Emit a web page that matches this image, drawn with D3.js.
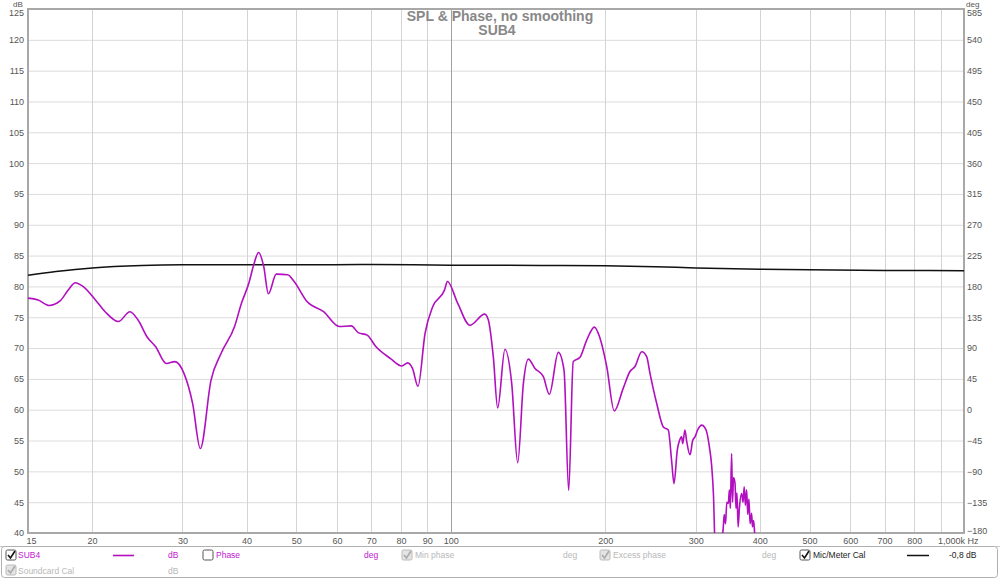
<!DOCTYPE html>
<html><head><meta charset="utf-8">
<script src="https://cdn.jsdelivr.net/npm/d3@7"></script>
<style>
html,body{margin:0;padding:0;background:#fff;}
svg{display:block;font-family:"Liberation Sans",Arial,sans-serif;}
</style></head>
<body><svg id="c" width="1000" height="581"></svg>
<script>
// ---- data ----
const splFreq = [15,15.7,16.5,17.3,18.0,18.54,19.2,20.3,21.2,22.5,23.7,24.6,25.6,26.6,27.9,29.0,30.2,31.4,32.5,34.1,35.7,37.9,39.1,40.4,41.3,42.2,43.2,44.1,45.7,48.1,49.5,52.5,56.5,60.6,64.0,66.0,68.7,71.5,76.3,80.3,82.4,84.2,86.3,89.1,92.2,97.2,98.5,103.1,108.9,116.4,118.3,121.0,123.4,127.5,131.4,135.0,138.5,141.6,145.9,151.4,155.6,162.0,166.2,169.7,173.2,178.5,184.0,190.5,195.3,201.3,208.2,216.8,223.4,228.5,235.5,240.8,244.4,251.9,259.5,265.3,269.4,272.2,276.3,279,281.7,283,285.9,288,292.5,296,299.1,303,308.2,312,315.2,319,322.4,325,327.2,332,337,339.6,341,343,345,347.3,349,350.5,352.5,354,355.5,357.9,359.5,361,363,365,368.7,371,373,375,377.1,379,381,383,385.6,387,389,390.5,392,396];
const splDb = [78.1,77.8,76.9,77.6,79.5,80.6,80.0,77.8,75.9,74.3,75.9,74.5,71.8,70.2,67.5,67.8,65.9,61.0,53.7,64.8,69.2,73.5,77.3,80.5,83.5,85.5,83.2,78.8,82.0,81.9,80.8,77.5,75.9,73.5,73.6,72.5,72.1,70.2,68.3,67.1,67.6,66.7,63.8,72.4,76.7,79.4,80.8,77.3,73.7,75.5,74.6,68.6,60.3,69.8,64.3,51.4,64.3,68.2,66.7,65.4,62.5,69.3,66.4,46.9,67.8,68.5,71.3,73.4,71.6,67.0,59.8,63.5,66.2,67.0,69.4,68.6,65.9,61.0,57.2,56.7,51.6,48.0,53.5,55.0,55.6,54.5,56.7,55.0,52.7,55.0,55.6,56.8,57.5,57.2,56.4,54.0,50.8,46.0,38.0,34.0,38.0,41.0,43.0,41.5,45.0,44.8,47.0,44.0,52.9,45.0,49.0,48.1,44.0,46.5,41.0,44.0,46.4,45.0,47.5,44.5,47.0,43.0,45.5,41.5,43.2,41.0,42.0,40.5,38.0,34.0];
const calFreq = [15,17,20,25,30,50,70,100,150,200,250,300,400,500,700,1000];
const calDb   = [81.8,82.4,83.0,83.4,83.5,83.5,83.55,83.45,83.4,83.35,83.2,83.0,82.8,82.7,82.6,82.55];
const xTicks = [15,20,30,40,50,60,70,80,90,100,200,300,400,500,600,700,800,1000];
const xTickLabels = ["15","20","30","40","50","60","70","80","90","100","200","300","400","500","600","700","800","1,000k Hz"];
const xGrid = [20,30,40,50,60,70,80,90,100,200,300,400,500,600,700,800,900];
const dbTicks = [40,45,50,55,60,65,70,75,80,85,90,95,100,105,110,115,120,125];
const degTicks = [-180,-135,-90,-45,0,45,90,135,180,225,270,315,360,405,450,495,540,585];

// ---- layout ----
const L=28,R=964,T=9,B=533;
const svg=d3.select("#c");
const x=d3.scaleLog().domain([15,1000]).range([L,R]);
const y=d3.scaleLinear().domain([40,125]).range([B,T]);
const yDeg=d3.scaleLinear().domain([-180,585]).range([B,T]);

// grid
const g=svg.append("g");
g.selectAll(".hg").data(dbTicks).join("line")
 .attr("x1",L).attr("x2",R).attr("y1",d=>y(d)+0.5).attr("y2",d=>y(d)+0.5)
 .attr("stroke","#dcdcdc").attr("stroke-width",1);
g.selectAll(".vg").data(xGrid).join("line")
 .attr("y1",T).attr("y2",B).attr("x1",d=>Math.round(x(d))+0.5).attr("x2",d=>Math.round(x(d))+0.5)
 .attr("stroke",d=>d===100?"#a0a0a0":"#d4d4d4").attr("stroke-width",1);

// axes
const fs="9px";
const ax=svg.append("g").attr("transform",`translate(0,${B})`)
 .call(d3.axisBottom(x).tickValues(xTicks).tickFormat((d,i)=>xTickLabels[i]).tickSize(0).tickPadding(5));
ax.select(".domain").remove();
ax.selectAll("text").attr("fill","#555").style("font-size",fs).attr("font-family","Liberation Sans, Arial");
ax.selectAll(".tick").filter(d=>d===1000).select("text").attr("text-anchor","end").attr("dx","14");
ax.selectAll(".tick").filter(d=>d===15).select("text").attr("dx","3");

const ayl=svg.append("g").attr("transform",`translate(${L},0)`)
 .call(d3.axisLeft(y).tickValues(dbTicks).tickSize(0).tickPadding(4));
ayl.select(".domain").remove();
ayl.selectAll("text").attr("fill","#555").style("font-size",fs).attr("font-family","Liberation Sans, Arial");
ayl.selectAll(".tick").filter(d=>d===125).select("text").attr("dy","0.72em");

const ayr=svg.append("g").attr("transform",`translate(${R},0)`)
 .call(d3.axisRight(yDeg).tickValues(degTicks).tickSize(0).tickPadding(3));
ayr.select(".domain").remove();
ayr.selectAll("text").attr("fill","#555").style("font-size",fs).attr("font-family","Liberation Sans, Arial");
ayr.selectAll(".tick").filter(d=>d===585).select("text").attr("dy","0.72em");
ayr.selectAll(".tick").filter(d=>d===-180).select("text").attr("dy","0.1em");

svg.append("text").attr("x",13).attr("y",7).attr("fill","#555").style("font-size","8px").text("dB");
svg.append("text").attr("x",966).attr("y",7).attr("fill","#555").style("font-size","8px").text("deg");

// frame
svg.append("rect").attr("x",L).attr("y",T).attr("width",R-L).attr("height",B-T)
 .attr("fill","none").attr("stroke","#a8a8a8").attr("stroke-width",2);

// title
svg.append("text").attr("x",500).attr("y",21).attr("text-anchor","middle").attr("fill","#888")
 .style("font-size","14px").style("font-weight","bold").text("SPL & Phase, no smoothing");
svg.append("text").attr("x",497).attr("y",35).attr("text-anchor","middle").attr("fill","#888")
 .style("font-size","14px").style("font-weight","bold").text("SUB4");

// clip
svg.append("clipPath").attr("id","clip").append("rect").attr("x",L).attr("y",T).attr("width",R-L).attr("height",B-T);

// cal line
const calData=calFreq.map((f,i)=>[f,calDb[i]]);
svg.append("path").datum(calData).attr("clip-path","url(#clip)")
 .attr("d",d3.line().x(d=>x(d[0])).y(d=>y(d[1])).curve(d3.curveMonotoneX))
 .attr("fill","none").attr("stroke","#111").attr("stroke-width",1.5);

// spl line
const splData=splFreq.map((f,i)=>[f,splDb[i]]);
svg.append("path").datum(splData).attr("clip-path","url(#clip)")
 .attr("d",d3.line().x(d=>x(d[0])).y(d=>y(d[1])).curve(d3.curveMonotoneX))
 .attr("fill","none").attr("stroke","#b10fbf").attr("stroke-width",1.6);

// separator & legend
svg.append("line").attr("x1",0).attr("x2",1000).attr("y1",546.5).attr("y2",546.5).attr("stroke","#c8c8c8");
svg.append("rect").attr("x",1.5).attr("y",546.5).attr("width",996).attr("height",31).attr("rx",3)
 .attr("fill","#fff").attr("stroke","#b0b0b0");

function checkbox(cx,cy,checked,active){
  const gg=svg.append("g");
  gg.append("rect").attr("x",cx).attr("y",cy).attr("width",10).attr("height",10).attr("rx",1.5)
    .attr("fill",active?"#fff":"#e4e4e4").attr("stroke",active?"#555":"#bbb");
  if(checked) gg.append("path").attr("d",`M${cx+2},${cy+5} L${cx+4.5},${cy+8} L${cx+9},${cy+1}`)
    .attr("fill","none").attr("stroke",active?"#111":"#aaa").attr("stroke-width",1.6);
}
function lt(tx,ty,s,c){svg.append("text").attr("x",tx).attr("y",ty).attr("fill",c).style("font-size","8.5px").text(s);}
const mag="#c020d0", lg="#b8b8b8";
checkbox(6,550,true,true); lt(18,558,"SUB4",mag);
svg.append("line").attr("x1",113).attr("x2",134).attr("y1",555.5).attr("y2",555.5).attr("stroke","#b10fbf").attr("stroke-width",1.6);
lt(168,558,"dB",mag);
checkbox(203,550,false,true); lt(216,558,"Phase",mag);
lt(364,558,"deg",mag);
checkbox(402,550,true,false); lt(415,558,"Min phase",lg);
lt(563,558,"deg",lg);
checkbox(600,550,true,false); lt(613,558,"Excess phase",lg);
lt(762,558,"deg",lg);
checkbox(800,550,true,true); lt(813,558,"Mic/Meter Cal","#222");
svg.append("line").attr("x1",907).attr("x2",929).attr("y1",555.5).attr("y2",555.5).attr("stroke","#111").attr("stroke-width",1.5);
lt(949,558,"-0,8 dB","#222");
checkbox(6,565,true,false); lt(18,574,"Soundcard Cal",lg);
lt(168,574,"dB",lg);
</script></body></html>
